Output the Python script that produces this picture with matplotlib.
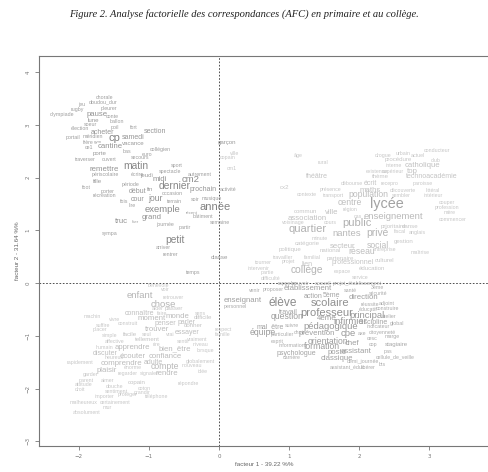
import matplotlib
matplotlib.use("Agg")
from matplotlib import pyplot as plt

# AFC : (mot, facteur 1, facteur 2, poids)
primaire = [
    ("chorale", -1.63, 3.52, 5), ("jeu", -1.96, 3.39, 5), ("doudou_dur", -1.66, 3.43, 5),
    ("pleurer", -1.57, 3.31, 5), ("rugby", -2.03, 3.28, 5), ("olympiade", -2.24, 3.20, 5),
    ("pause", -1.74, 3.20, 8), ("conte", -1.53, 3.16, 5), ("lune", -1.80, 3.09, 6),
    ("ballon", -1.46, 3.07, 5), ("soeur", -1.83, 3.01, 5), ("poil", -1.49, 2.95, 5),
    ("fort", -1.21, 2.94, 5), ("élection", -1.99, 2.92, 5), ("acheter", -1.67, 2.86, 7),
    ("section", -0.91, 2.88, 7), ("portail", -2.09, 2.75, 5), ("méridien", -1.80, 2.77, 5),
    ("cp", -1.49, 2.75, 12), ("samedi", -1.23, 2.75, 7), ("frère", -1.87, 2.67, 5),
    ("gym", -1.73, 2.67, 4), ("vacance", -1.23, 2.65, 6), ("ce1", -1.86, 2.56, 5),
    ("cantine", -1.56, 2.58, 8), ("collégien", -0.84, 2.54, 5), ("porte", -1.70, 2.46, 6),
    ("bas", -1.31, 2.50, 5), ("euro", -1.03, 2.44, 5), ("traverser", -1.91, 2.35, 5),
    ("ouvert", -1.57, 2.35, 5), ("secours", -1.13, 2.37, 5), ("remettre", -1.64, 2.16, 8),
    ("matin", -1.19, 2.22, 11), ("périscolaire", -1.63, 2.06, 5), ("écrire", -1.16, 2.06, 5),
    ("sport", -0.60, 2.22, 5), ("spectacle", -0.70, 2.12, 5), ("autrement", -0.27, 2.06, 5),
    ("jeudi", -1.04, 2.03, 6), ("midi", -0.84, 1.97, 8), ("cm2", -0.41, 1.97, 10),
    ("fille", -1.73, 1.93, 6), ("période", -1.27, 1.875, 5), ("foot", -1.89, 1.82, 5),
    ("dernier", -0.63, 1.84, 11), ("prochain", -0.23, 1.78, 7), ("activité", 0.13, 1.78, 5),
    ("fin", -0.99, 1.78, 6), ("début", -1.17, 1.74, 7), ("porter", -1.59, 1.74, 5),
    ("occasion", -0.67, 1.70, 5), ("récréation", -1.63, 1.65, 5), ("fois", -1.36, 1.55, 5),
    ("cour", -1.16, 1.59, 7), ("jour", -0.91, 1.61, 9), ("terrain", -0.63, 1.55, 5),
    ("soir", -0.34, 1.59, 5), ("musique", -0.10, 1.61, 5), ("lire", -1.24, 1.46, 5),
    ("exemple", -0.80, 1.40, 10), ("année", -0.06, 1.44, 12), ("récent", -0.39, 1.33, 4),
    ("bâtiment", -0.23, 1.27, 5), ("grand", -0.96, 1.25, 8), ("truc", -1.40, 1.17, 8),
    ("hier", -1.19, 1.16, 4), ("journée", -0.77, 1.10, 5), ("partir", -0.49, 1.06, 5),
    ("semaine", 0.01, 1.14, 5), ("sympa", -1.56, 0.93, 5), ("petit", -0.63, 0.81, 11),
    ("arriver", -0.80, 0.68, 5), ("rentrer", -0.70, 0.55, 5), ("classe", 0.01, 0.49, 6),
    ("temps", -0.37, 0.19, 5), ("garçon", 0.11, 2.67, 6),
]

enfant = [
    ("bénévole", -0.87, -0.04, 5), ("voir", -0.77, -0.13, 5), ("retrouver", -0.66, -0.27, 5),
    ("enfant", -1.13, -0.23, 10), ("chose", -0.80, -0.40, 10), ("aider", -0.87, -0.49, 5),
    ("passer", -0.64, -0.49, 6), ("connaître", -1.13, -0.57, 7), ("faire", -0.81, -0.57, 5),
    ("machin", -1.81, -0.63, 5), ("moment", -0.96, -0.68, 8), ("monde", -0.60, -0.64, 8),
    ("sens", -0.27, -0.57, 5), ("difficile", -0.23, -0.66, 6), ("vivre", -1.49, -0.70, 5),
    ("construit", -1.30, -0.76, 5), ("penser", -0.77, -0.76, 7), ("parler", -0.46, -0.74, 7),
    ("suffire", -1.66, -0.80, 5), ("placer", -1.70, -0.89, 5), ("trouver", -0.89, -0.89, 8),
    ("donner", -0.37, -0.81, 6), ("respect", 0.06, -0.89, 5), ("essayer", -0.46, -0.93, 7),
    ("famille", 0.06, -0.97, 5), ("simple", -1.56, -1.00, 5), ("facile", -1.27, -0.97, 6),
    ("seul", -1.03, -0.97, 5), ("vrai", -0.70, -0.98, 5), ("affective", -1.49, -1.10, 5),
    ("tellement", -1.03, -1.08, 6), ("sentir", -0.51, -1.10, 5), ("vraiment", -0.31, -1.08, 5),
    ("niveau", -0.27, -1.17, 5), ("humain", -1.63, -1.23, 5), ("apprendre", -1.23, -1.23, 8),
    ("rire", -0.89, -1.17, 5), ("bien_être", -0.63, -1.25, 8), ("lorsque", -0.20, -1.27, 5),
    ("discuter", -1.63, -1.33, 7), ("heureux", -1.49, -1.42, 5), ("écouter", -1.23, -1.40, 8),
    ("confiance", -0.77, -1.40, 8), ("rapidement", -1.99, -1.50, 5), ("comprendre", -1.39, -1.52, 8),
    ("adulte", -0.94, -1.50, 7), ("globalement", -0.27, -1.48, 5), ("plaisir", -1.60, -1.65, 8),
    ("énorme", -1.23, -1.61, 5), ("compte", -0.77, -1.59, 9), ("nouveau", -0.39, -1.57, 5),
    ("idée", -0.23, -1.67, 5), ("regarder", -1.31, -1.72, 5), ("signaler", -0.99, -1.72, 5),
    ("rendre", -0.74, -1.72, 8), ("garder", -1.84, -1.74, 5), ("parent", -1.89, -1.84, 5),
    ("aimer", -1.60, -1.84, 5), ("copain", -1.17, -1.89, 6), ("répondre", -0.44, -1.91, 5),
    ("attitude", -1.94, -1.93, 5), ("douche", -1.49, -1.97, 5), ("coton", -1.06, -1.99, 5),
    ("droit", -1.99, -2.01, 5), ("sentiment", -1.46, -2.06, 5), ("grandir", -1.10, -2.08, 5),
    ("protéger", -1.31, -2.12, 5), ("importer", -1.63, -2.16, 5), ("téléphone", -0.89, -2.16, 5),
    ("malheureux", -1.94, -2.27, 5), ("certainement", -1.49, -2.27, 5), ("mur", -1.60, -2.35, 5),
    ("absolument", -1.89, -2.46, 5),
]

lycee = [
    ("ville", 0.23, 2.46, 5), ("copain", 0.13, 2.37, 5), ("cm1", 0.19, 2.18, 5),
    ("conducteur", 3.11, 2.52, 5), ("urbain", 2.63, 2.46, 5), ("actuel", 2.84, 2.42, 5),
    ("drogue", 2.34, 2.42, 5), ("âge", 1.13, 2.41, 5), ("rural", 1.49, 2.29, 5),
    ("procédure", 2.56, 2.35, 6), ("club", 3.09, 2.33, 5), ("interne", 2.49, 2.23, 5),
    ("catholique", 2.90, 2.23, 8), ("existence", 2.26, 2.12, 5), ("supérieur", 2.49, 2.12, 5),
    ("top", 2.76, 2.12, 8), ("théâtre", 1.40, 2.01, 7), ("thème", 2.30, 2.01, 6),
    ("technoacadémie", 3.04, 2.01, 7), ("cx2", 0.94, 1.82, 6), ("débourse", 1.90, 1.89, 5),
    ("écrit", 2.16, 1.89, 7), ("recepro", 2.44, 1.89, 5), ("paroisse", 2.91, 1.89, 5),
    ("présence", 1.59, 1.78, 5), ("maths", 2.16, 1.76, 8), ("découverte", 2.63, 1.76, 5),
    ("littéral", 3.06, 1.76, 5), ("contexte", 1.26, 1.67, 5), ("transport", 1.63, 1.65, 5),
    ("population", 2.14, 1.67, 9), ("sembler", 2.61, 1.65, 5), ("intérieur", 3.06, 1.65, 5),
    ("centre", 1.87, 1.52, 9), ("lycée", 2.40, 1.50, 16), ("couper", 3.26, 1.53, 5),
    ("région", 1.87, 1.40, 5), ("profession", 3.26, 1.44, 5), ("commun", 1.23, 1.36, 6),
    ("ville", 1.61, 1.33, 8), ("enseignement", 2.49, 1.27, 10), ("mère", 3.30, 1.33, 5),
    ("association", 1.26, 1.23, 8), ("cas", 1.99, 1.27, 5), ("commencer", 3.33, 1.21, 5),
    ("voisinage", 1.06, 1.14, 5), ("cours", 1.59, 1.14, 5), ("public", 1.97, 1.14, 12),
    ("prioritaire", 2.49, 1.08, 6), ("danse", 2.73, 1.08, 6), ("quartier", 1.26, 1.02, 12),
    ("nantes", 1.83, 0.93, 10), ("privé", 2.26, 0.95, 11), ("fiscal", 2.59, 0.98, 5),
    ("anglais", 2.83, 0.95, 5), ("minute", 1.44, 0.85, 5), ("catégorie", 1.26, 0.74, 6),
    ("secteur", 1.77, 0.70, 8), ("social", 2.27, 0.72, 9), ("gestion", 2.63, 0.78, 6),
    ("politique", 1.01, 0.63, 6), ("national", 1.59, 0.61, 6), ("réseau", 2.04, 0.59, 9),
    ("entreprise", 2.37, 0.64, 5), ("maîtrise", 2.87, 0.57, 5), ("travailler", 0.91, 0.49, 5),
    ("familial", 1.33, 0.49, 5), ("partenaire", 1.73, 0.47, 6), ("projet", 0.99, 0.40, 5),
    ("lien", 1.26, 0.36, 7), ("professionnel", 1.91, 0.38, 7), ("culturel", 2.37, 0.42, 6),
    ("collège", 1.26, 0.25, 11), ("espace", 1.76, 0.21, 5), ("éducation", 2.19, 0.28, 6),
    ("tourner", 0.63, 0.38, 5), ("intervenir", 0.56, 0.28, 5), ("partie", 0.69, 0.19, 5),
    ("difficulté", 0.73, 0.09, 5), ("service", 2.01, 0.11, 5),
]

college = [
    ("rappeler", 0.97, 0.0, 5), ("pouvoir", 1.16, 0.0, 5), ("accueil", 1.49, 0.0, 5),
    ("projet_établissement", 1.97, 0.0, 5), ("venir", 0.51, -0.15, 5), ("proposer", 0.77, -0.13, 5),
    ("établissement", 1.27, -0.11, 8), ("santé", 1.87, -0.15, 5), ("3ème", 2.26, -0.09, 5),
    ("sécurité", 2.27, -0.19, 5), ("action", 1.34, -0.25, 7), ("5ème", 1.61, -0.23, 7),
    ("direction", 2.06, -0.27, 8), ("enseignant", 0.34, -0.34, 8), ("élève", 0.91, -0.38, 13),
    ("scolaire", 1.59, -0.38, 12), ("réussite", 2.16, -0.40, 5), ("adjoint", 2.40, -0.38, 5),
    ("personnel", 0.24, -0.45, 5), ("travail", 0.99, -0.55, 7), ("question", 0.97, -0.64, 9),
    ("professeur", 1.54, -0.57, 12), ("éducatif", 2.13, -0.51, 5), ("construire", 2.40, -0.49, 5),
    ("4ème", 1.54, -0.68, 8), ("infirmier", 1.87, -0.72, 10), ("principal", 2.11, -0.61, 10),
    ("atelier", 2.43, -0.64, 5), ("mal_être", 0.73, -0.83, 7), ("suivre", 1.04, -0.81, 5),
    ("pédagogique", 1.59, -0.83, 10), ("discipline", 2.20, -0.74, 7), ("global", 2.54, -0.76, 5),
    ("indicateur", 2.27, -0.83, 5), ("équipe", 0.63, -0.93, 9), ("particulier", 0.91, -0.98, 5),
    ("choix", 1.16, -0.93, 5), ("prévention", 1.40, -0.95, 8), ("cpe", 1.84, -0.95, 10),
    ("axe", 2.04, -0.95, 5), ("citoyenneté", 2.33, -0.93, 5), ("marge", 2.47, -1.02, 5),
    ("esprit", 0.83, -1.10, 5), ("orientation", 1.56, -1.10, 9), ("chef", 1.90, -1.14, 8),
    ("cesc", 2.19, -1.06, 5), ("cop", 2.20, -1.16, 5), ("stagiaire", 2.54, -1.16, 6),
    ("information", 1.04, -1.19, 5), ("formation", 1.47, -1.21, 9), ("psychologue", 1.11, -1.33, 7),
    ("poste", 1.69, -1.31, 8), ("assistant", 1.96, -1.29, 8), ("pas", 2.41, -1.29, 5),
    ("carrière", 1.04, -1.42, 5), ("classique", 1.69, -1.44, 8), ("demi_journée", 2.06, -1.48, 5),
    ("cellule_de_veille", 2.51, -1.40, 5), ("assistant_éduc", 1.84, -1.59, 5),
    ("libérer", 2.13, -1.61, 5), ("bts", 2.33, -1.55, 5),
]

groupes = [(primaire, 0.50), (college, 0.55), (enfant, 0.66), (lycee, 0.68)]

fig = plt.figure(figsize=(4.88, 4.72), dpi=100)
ax = fig.add_axes([0.080, 0.055, 0.924, 0.826])

for mots, gris in groupes:
    for mot, f1, f2, poids in mots:
        taille = 3.8 + (poids - 5) * 0.6
        niveau = min(0.78, gris + 0.12 - (poids - 5) * 0.015)
        ax.text(f1, f2, mot, ha="center", va="center", fontsize=taille,
                color=(niveau, niveau, niveau), family="Liberation Sans")

ax.axvline(0, color="#333333", lw=0.6, linestyle=(0, (2, 2)))
ax.axhline(0, color="#333333", lw=0.6, linestyle=(0, (2, 2)))

ax.set_xlim(-2.57, 3.87)
ax.set_ylim(-3.09, 4.30)
ax.set_xticks([-2, -1, 0, 1, 2, 3])
ax.set_yticks([-3, -2, -1, 0, 1, 2, 3, 4])
for s in ax.spines.values():
    s.set_color("#777777")
    s.set_linewidth(0.8)
ax.tick_params(direction="out", length=3, width=0.6, color="#777777",
               labelsize=4, labelcolor="#777777", pad=3)
for lab in ax.get_yticklabels():
    lab.set_rotation(90)
    lab.set_va("center")
ax.set_xlabel("facteur 1 - 39.22 %%", fontsize=4.5, color="#666666",
              family="Liberation Sans", labelpad=2)
ax.set_ylabel("facteur 2 - 31.64 %%", fontsize=4.5, color="#666666",
              family="Liberation Sans", labelpad=4)

fig.text(0.50, 0.970, "Figure 2. Analyse factorielle des correspondances (AFC) en primaire et au collège.",
         ha="center", va="center", fontsize=7.6, style="italic",
         family="Liberation Serif", color="#222222")

fig.savefig("out.png", dpi=100, facecolor="white")
